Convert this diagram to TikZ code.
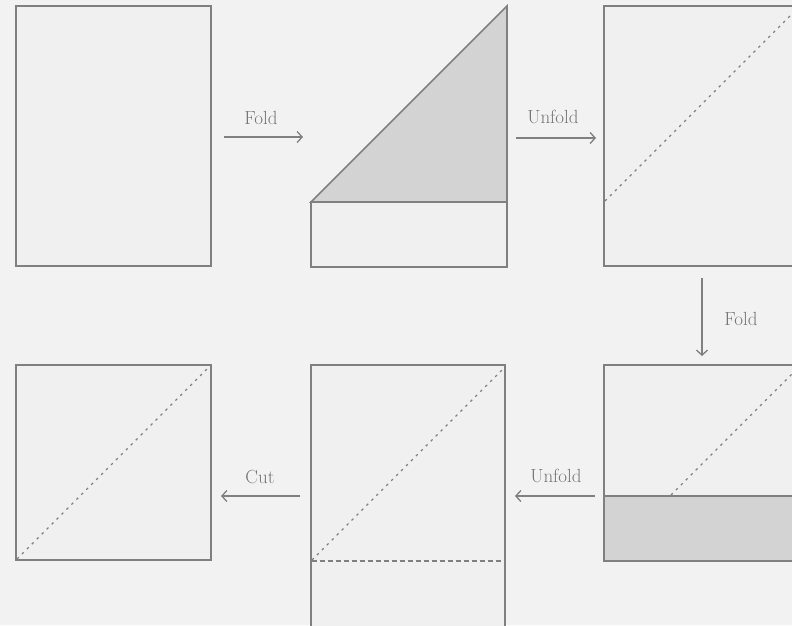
\documentclass[tikz,border=0pt]{standalone}
\usetikzlibrary{arrows.meta}
\definecolor{bg}{HTML}{F2F2F2}
\definecolor{paper}{HTML}{F0F0F0}
\definecolor{flap}{HTML}{D3D3D3}
\definecolor{edge}{HTML}{808080}
\definecolor{txt}{HTML}{767676}
\tikzset{
  sheet/.style={draw=edge, line width=1.6pt, fill=paper},
  folded/.style={draw=edge, line width=1.6pt, fill=flap},
  crease/.style={draw=edge, line width=1.1pt, dash pattern=on 2.5pt off 4.5pt},
  foldline/.style={draw=edge, line width=1.4pt, dash pattern=on 5pt off 3pt},
  steparrow/.style={draw=edge, line width=1.3pt, -{Straight Barb[length=5pt,width=11pt]}},
  lbl/.style={text=txt, font=\fontsize{19}{22}\selectfont, inner sep=0pt}
}
\begin{document}
\begin{tikzpicture}[x=1pt,y=-1pt]
\useasboundingbox (0,0) rectangle (792,625);
\fill[bg] (0,0) rectangle (792,625);
\clip (0,0) rectangle (792,625);
% panel 1
\draw[sheet] (16,6) rectangle (211,266);
% panel 2
\draw[folded] (311,202) -- (507,6) -- (507,202) -- cycle;
\draw[sheet] (311,202) rectangle (507,267);
% panel 3
\draw[sheet] (604,6) rectangle (800,266);
\draw[crease] (605,201) -- (799,7);
% panel 4
\draw[sheet] (604,365) rectangle (800,561);
\draw[folded] (604,496) rectangle (800,561);
\draw[crease] (671,495) -- (799,367);
% panel 5
\draw[sheet] (311,365) rectangle (505,628);
\draw[crease] (312,560) -- (504,368);
\draw[foldline] (312,561) -- (503,561);
% panel 6
\draw[sheet] (16,365) rectangle (211,560);
\draw[crease] (17,559) -- (210,366);
% arrow end points
\coordinate (a1s) at (224,137); \coordinate (a1e) at (303,137);
\coordinate (a2s) at (516,138); \coordinate (a2e) at (596,138);
\coordinate (a3s) at (702,278); \coordinate (a3e) at (702,356);
\coordinate (a4s) at (595,496); \coordinate (a4e) at (515,496);
\coordinate (a5s) at (300,496); \coordinate (a5e) at (221,496);
\draw[steparrow] (a1s) -- (a1e);
\draw[steparrow] (a2s) -- (a2e);
\draw[steparrow] (a3s) -- (a3e);
\draw[steparrow] (a4s) -- (a4e);
\draw[steparrow] (a5s) -- (a5e);
% labels
\node[lbl] (l1) at (261,118) {Fold};
\node[lbl] (l2) at (553,117) {Unfold};
\node[lbl] (l3) at (741,319) {Fold};
\node[lbl] (l4) at (556,476) {Unfold};
\node[lbl] (l5) at (260,477) {Cut};
\end{tikzpicture}
\end{document}
